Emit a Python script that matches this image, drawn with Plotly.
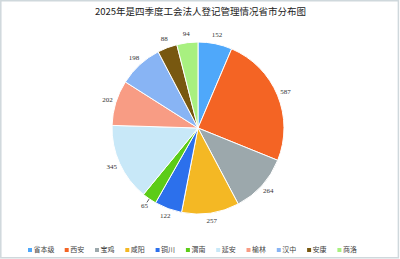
import plotly.graph_objects as go

W, H = 400, 259

categories = ["省本级", "西安", "宝鸡", "咸阳", "铜川", "渭南", "延安", "榆林", "汉中", "安康", "商洛"]
values = [152, 587, 264, 257, 122, 65, 345, 202, 198, 88, 94]
colors = ["#4FA8FA", "#F46424", "#9CA8AC", "#F4B824", "#2C70EC", "#5CCC18",
          "#C8E8F8", "#F89C84", "#88B4F4", "#785810", "#A8F080"]
title = "2025年是四季度工会法人登记管理情况省市分布图"

# pie geometry (pixels)
CX, CY, R = 198, 128, 86
K = 1.25  # polar axis extends beyond the pie so outside labels fit

pie_dom = dict(x=[(CX - R) / W, (CX + R) / W], y=[1 - (CY + R) / H, 1 - (CY - R) / H])
pol_dom = dict(x=[(CX - R * K) / W, (CX + R * K) / W],
               y=[1 - (CY + R * K) / H, 1 - (CY - R * K) / H])

fig = go.Figure()

fig.add_trace(go.Pie(
    labels=categories, values=values, sort=False, direction="clockwise", rotation=0,
    marker=dict(colors=colors, line=dict(color="white", width=1)),
    textinfo="none", domain=pie_dom,
    showlegend=False, hoverinfo="label+value",
))

# value labels placed around the pie on a polar axis aligned with the pie
total = sum(values)
mids = []
acc = 0
for v in values:
    mids.append((acc + v / 2) / total * 360)
    acc += v
fig.add_trace(go.Scatterpolar(
    theta=mids, r=[1.1] * len(values), mode="text",
    text=[str(v) for v in values], textposition="middle center",
    textfont=dict(family="Liberation Serif", size=7, color="#333333"),
    showlegend=False, hoverinfo="skip", cliponaxis=False,
))
# small leader line for the thin 渭南 slice
i_small = values.index(min(values))
fig.add_trace(go.Scatterpolar(
    theta=[mids[i_small], mids[i_small]], r=[1.0, 1.05], mode="lines",
    line=dict(color="#333333", width=0.8), showlegend=False, hoverinfo="skip",
    cliponaxis=False,
))

# custom compact legend along the bottom
xs = []
x = 30.0
for name in categories:
    xs.append(x)
    x += 17.5 + 6.4 * len(name)
fig.add_trace(go.Scatter(
    x=xs, y=[H - 250] * len(categories), mode="markers+text",
    marker=dict(symbol="square", size=4, color=colors),
    text=categories, textposition="middle right",
    textfont=dict(family="Noto Sans CJK SC", size=7, color="#444444"),
    showlegend=False, hoverinfo="skip", cliponaxis=False,
))

fig.update_layout(
    width=W, height=H, margin=dict(l=0, r=0, t=0, b=0),
    paper_bgcolor="white", plot_bgcolor="rgba(0,0,0,0)",
    xaxis=dict(range=[0, W], visible=False, fixedrange=True),
    yaxis=dict(range=[0, H], visible=False, fixedrange=True),
    polar=dict(domain=pol_dom, bgcolor="rgba(0,0,0,0)",
               angularaxis=dict(rotation=90, direction="clockwise", visible=False),
               radialaxis=dict(range=[0, K], visible=False)),
    annotations=[dict(text=title, x=0.5, y=1 - 11 / H, xref="paper", yref="paper",
                      showarrow=False, xanchor="center", yanchor="middle",
                      font=dict(family="Noto Sans CJK SC", size=9.5, color="#222222"))],
    shapes=[dict(type="rect", xref="paper", yref="paper", x0=0.002, x1=0.996,
                 y0=0.005, y1=0.997, line=dict(color="#CFD8DC", width=1.5))],
)

fig.write_html("out.html")
